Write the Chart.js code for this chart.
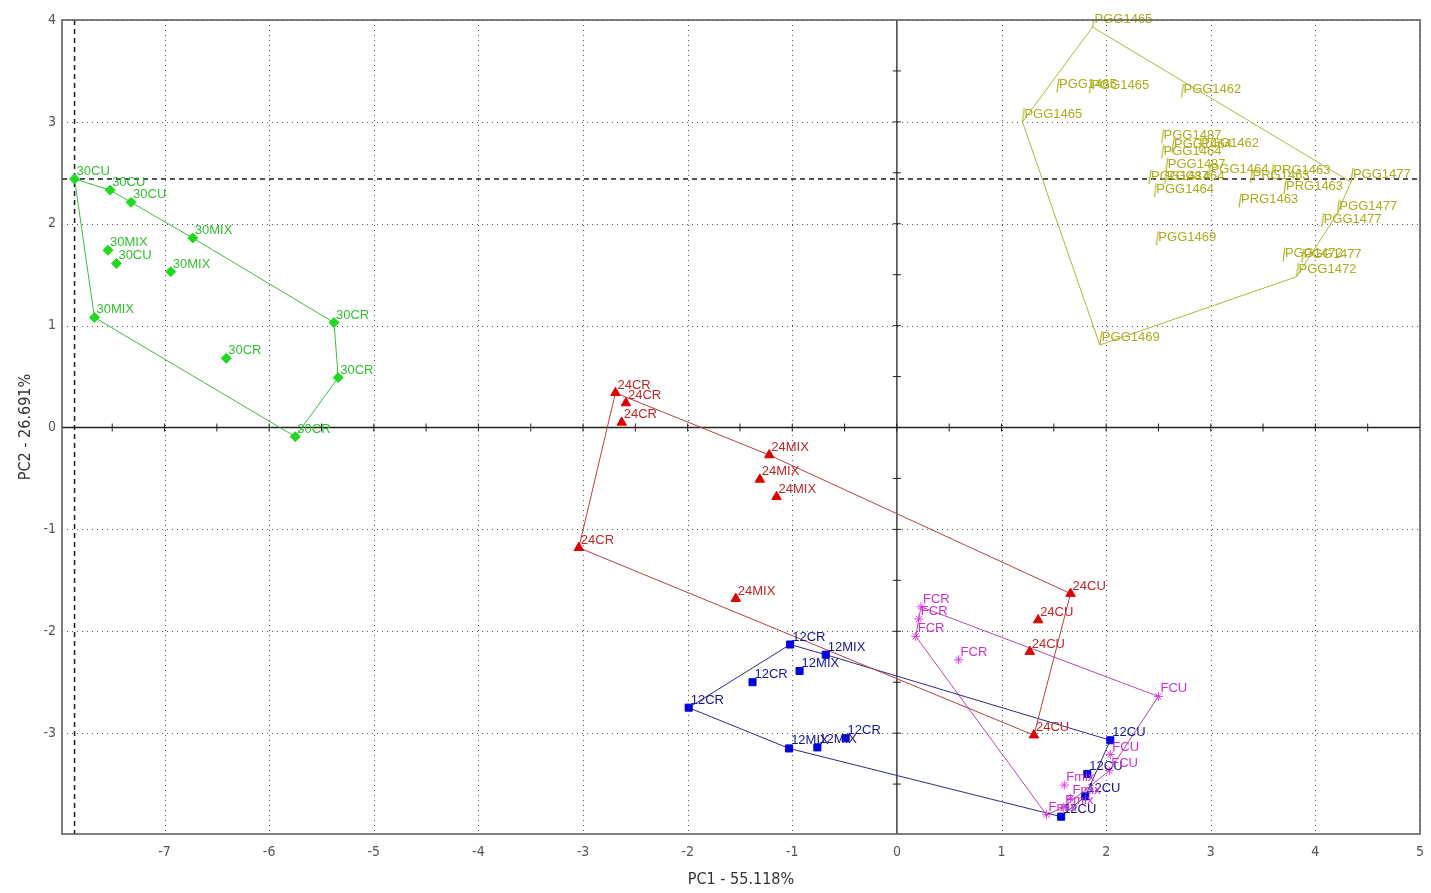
<!DOCTYPE html>
<html>
<head>
<meta charset="utf-8">
<script src="https://cdn.jsdelivr.net/npm/chart.js@4.4.1/dist/chart.umd.min.js"></script>
<style>
  html, body { margin: 0; padding: 0; background: #ffffff; }
  canvas { display: block; }
</style>
</head>
<body>
<canvas id="pca" width="1431" height="893"></canvas>
<script>
// ---- PCA score data (PC1, PC2) per sample series ----
const names30 = ['30CU','30CU','30CU','30MIX','30MIX','30CU','30MIX','30MIX','30CR','30CR','30CR','30CR'];
const pc1_30  = [-7.86,-7.52,-7.32,-6.73,-7.54,-7.46,-6.94,-7.67,-5.38,-6.41,-5.34,-5.75];
const pc2_30  = [ 2.44, 2.33, 2.21, 1.86, 1.74, 1.61, 1.53, 1.08, 1.03, 0.68, 0.49,-0.09];

const names24 = ['24CR','24CR','24CR','24MIX','24MIX','24MIX','24CR','24MIX','24CU','24CU','24CU','24CU'];
const pc1_24  = [-2.69,-2.59,-2.63,-1.22,-1.31,-1.15,-3.04,-1.54, 1.66, 1.35, 1.27, 1.31];
const pc2_24  = [ 0.34, 0.24, 0.05,-0.27,-0.51,-0.68,-1.18,-1.68,-1.63,-1.89,-2.20,-3.02];

const names12 = ['12CR','12MIX','12MIX','12CR','12CR','12MIX','12MIX','12CR','12CU','12CU','12CU','12CU'];
const pc1_12  = [-1.02,-0.68,-0.93,-1.38,-1.99,-1.03,-0.76,-0.49, 2.04, 1.82, 1.80, 1.57];
const pc2_12  = [-2.13,-2.23,-2.39,-2.50,-2.75,-3.15,-3.14,-3.05,-3.07,-3.40,-3.62,-3.82];

const namesF  = ['FCR','FCR','FCR','FCR','FCU','FCU','FCU','Fmix','Fmix','Fmix','Fmix'];
const pc1_F   = [ 0.23, 0.21, 0.18, 0.59, 2.50, 2.04, 2.03, 1.60, 1.66, 1.59, 1.43];
const pc2_F   = [-1.76,-1.88,-2.05,-2.28,-2.64,-3.21,-3.37,-3.51,-3.64,-3.73,-3.80];

const namesPGG = ['PGG1465','PGG1465','PGG1465','PGG1462','PGG1465','PGG1487','PGG1462','PGG1464','PGG1464',
                  'PGG1487','PGG1464','PRG1463','PGG1487','PGG1464','PRG1463','PRG1463','PGG1464','PRG1463',
                  'PGG1477','PGG1477','PGG1477','PGG1469','PGG1472','PGG1477','PGG1472','PGG1469'];
const pc1_PGG = [1.87,1.53,1.84,2.72,1.20,2.53,2.89,2.63,2.53,
                 2.57,2.98,3.58,2.41,2.56,3.38,3.70,2.46,3.27,
                 4.34,4.21,4.06,2.48,3.69,3.87,3.82,1.94];
const pc2_PGG = [3.93,3.29,3.28,3.24,3.00,2.79,2.71,2.70,2.64,
                 2.51,2.46,2.45,2.39,2.39,2.40,2.29,2.26,2.16,
                 2.41,2.10,1.97,1.79,1.63,1.62,1.48,0.81];

// ---- axes ----
const pc1Range = [-7.98, 5];
const pc2Range = [-3.99, 4];
const pc1Ticks = [-7,-6,-5,-4,-3,-2,-1,0,1,2,3,4,5];
const pc2Ticks = [-3,-2,-1,0,1,2,3,4];
const pc1Title = 'PC1 - 55.118%';
const pc2Title = 'PC2 - 26.691%';
const crosshair = [-7.86, 2.44];   // highlighted sample (dashed guide lines)

const narrowFont = "'Liberation Sans Narrow','DejaVu Sans Condensed','Liberation Sans',Arial,sans-serif";
const labelFont = "13px 'Liberation Sans', Arial, sans-serif";

function toPoints(xs, ys) { return xs.map((v, i) => ({ x: v, y: ys[i] })); }

// Convex hull (monotone chain), closed for drawing
function hull(points) {
  const p = points.slice().sort((a, b) => a.x - b.x || a.y - b.y);
  const cross = (o, a, b) => (a.x - o.x) * (b.y - o.y) - (a.y - o.y) * (b.x - o.x);
  const lower = [], upper = [];
  for (const q of p) {
    while (lower.length >= 2 && cross(lower[lower.length - 2], lower[lower.length - 1], q) <= 0) lower.pop();
    lower.push(q);
  }
  for (let i = p.length - 1; i >= 0; i--) {
    const q = p[i];
    while (upper.length >= 2 && cross(upper[upper.length - 2], upper[upper.length - 1], q) <= 0) upper.pop();
    upper.push(q);
  }
  upper.pop(); lower.pop();
  const h = lower.concat(upper);
  h.push(h[0]);
  return h;
}

// short upright stroke used as the PGG marker (anchored at its lower end)
function strokeMarker(color) {
  const c = document.createElement('canvas');
  c.width = 8; c.height = 32;
  const g = c.getContext('2d');
  g.strokeStyle = color; g.lineWidth = 1.2;
  g.beginPath(); g.moveTo(4, 16); g.lineTo(6, 2); g.stroke();
  return c;
}

const series = [
  { xs: pc1_30,  ys: pc2_30,  names: names30,  style: 'rectRot',  r: 5,   mark: '#1fd81f', text: '#2fbf2f', line: '#3cbc3c' },
  { xs: pc1_24,  ys: pc2_24,  names: names24,  style: 'triangle', r: 5.5, mark: '#dd0000', text: '#c42424', line: '#b84040' },
  { xs: pc1_12,  ys: pc2_12,  names: names12,  style: 'rect',     r: 5,   mark: '#0000dd', text: '#141496', line: '#2c2c8c' },
  { xs: pc1_F,   ys: pc2_F,   names: namesF,   style: 'star',     r: 4.5, mark: '#e040e0', text: '#cc30cc', line: '#b448b4' },
  { xs: pc1_PGG, ys: pc2_PGG, names: namesPGG, style: strokeMarker('#b4b422'), r: 4, mark: '#b4b422', text: '#acac1c', line: '#b4b43a' }
];

const datasets = [];
series.forEach(s => {
  const pts = toPoints(s.xs, s.ys);
  datasets.push({
    data: pts, order: 0,
    pointStyle: s.style, pointRadius: s.r,
    pointBackgroundColor: s.mark, pointBorderColor: s.mark, pointBorderWidth: 1,
    showLine: false,
    pointNames: s.names, labelColor: s.text
  });
  datasets.push({
    data: hull(pts), order: 1,
    showLine: true, fill: false, tension: 0,
    borderColor: s.line, borderWidth: 1, pointRadius: 0
  });
});

function strokeLine(ctx, x1, y1, x2, y2) {
  ctx.beginPath(); ctx.moveTo(x1, y1); ctx.lineTo(x2, y2); ctx.stroke();
}

// background grid, zero axes with half-unit ticks, guide lines, frame
const framePlugin = {
  id: 'pcaFrame',
  beforeDatasetsDraw(chart) {
    const { ctx, chartArea: { left, right, top, bottom }, scales: { x, y } } = chart;
    ctx.save();
    ctx.strokeStyle = 'rgba(40,40,40,0.8)';
    ctx.lineWidth = 1;
    ctx.setLineDash([1, 4]);
    pc1Ticks.filter(v => v !== 0).forEach(v => {
      const px = Math.round(x.getPixelForValue(v)) + 0.5;
      strokeLine(ctx, px, top, px, bottom);
    });
    pc2Ticks.filter(v => v !== 0).forEach(v => {
      const py = Math.round(y.getPixelForValue(v)) + 0.5;
      strokeLine(ctx, left, py, right, py);
    });

    // zero axes
    ctx.setLineDash([]);
    ctx.strokeStyle = '#222';
    ctx.lineWidth = 1.3;
    const x0 = x.getPixelForValue(0), y0 = y.getPixelForValue(0);
    strokeLine(ctx, left, y0, right, y0);
    strokeLine(ctx, x0, top, x0, bottom);
    ctx.lineWidth = 1;
    for (let k = Math.ceil(pc1Range[0] * 2); k <= Math.floor(pc1Range[1] * 2) - 1; k++) {
      const px = x.getPixelForValue(k / 2);
      strokeLine(ctx, px, y0 - 4, px, y0 + 4);
    }
    for (let k = Math.ceil(pc2Range[0] * 2); k <= Math.floor(pc2Range[1] * 2) - 1; k++) {
      const py = y.getPixelForValue(k / 2);
      strokeLine(ctx, x0 - 4, py, x0 + 4, py);
    }

    // dashed guides through the highlighted sample
    ctx.strokeStyle = '#1a1a1a';
    ctx.lineWidth = 1.5;
    ctx.setLineDash([5, 4]);
    const gx = x.getPixelForValue(crosshair[0]), gy = y.getPixelForValue(crosshair[1]);
    strokeLine(ctx, gx, top, gx, bottom);
    strokeLine(ctx, left, gy, right, gy);
    ctx.restore();
  },
  afterDraw(chart) {
    const { ctx, chartArea: { left, right, top, bottom } } = chart;
    ctx.save();
    ctx.strokeStyle = '#555';
    ctx.lineWidth = 1.5;
    ctx.strokeRect(left, top, right - left, bottom - top);
    ctx.restore();
  }
};

// sample names next to each score
const namePlugin = {
  id: 'sampleNames',
  afterDatasetsDraw(chart) {
    const ctx = chart.ctx;
    chart.data.datasets.forEach((ds, i) => {
      if (!ds.pointNames) return;
      const meta = chart.getDatasetMeta(i);
      ctx.save();
      ctx.font = labelFont;
      ctx.fillStyle = ds.labelColor;
      ctx.textBaseline = 'alphabetic';
      meta.data.forEach((el, j) => ctx.fillText(ds.pointNames[j], el.x + 2, el.y - 4));
      ctx.restore();
    });
  }
};

new Chart(document.getElementById('pca'), {
  type: 'scatter',
  data: { datasets },
  plugins: [framePlugin, namePlugin],
  options: {
    responsive: false,
    animation: false,
    events: [],
    layout: { padding: { left: 0, right: 11, top: 20, bottom: 0 } },
    plugins: { legend: { display: false }, tooltip: { enabled: false } },
    scales: {
      x: {
        type: 'linear', min: pc1Range[0], max: pc1Range[1],
        afterBuildTicks: s => { s.ticks = pc1Ticks.map(v => ({ value: v })); },
        afterFit: s => { s.height = 59; s.paddingLeft = 0; s.paddingRight = 0; },
        grid: { display: false, drawTicks: false },
        border: { display: false },
        ticks: { color: '#555', font: { family: narrowFont, size: 14 }, padding: 10, maxRotation: 0, autoSkip: false },
        title: { display: true, text: pc1Title, color: '#333', font: { family: narrowFont, size: 16 }, padding: { top: 0, bottom: 4 } }
      },
      y: {
        type: 'linear', min: pc2Range[0], max: pc2Range[1],
        afterBuildTicks: s => { s.ticks = pc2Ticks.map(v => ({ value: v })); },
        afterFit: s => { s.width = 62; s.paddingTop = 0; s.paddingBottom = 0; },
        grid: { display: false, drawTicks: false },
        border: { display: false },
        ticks: { color: '#555', font: { family: narrowFont, size: 14 }, padding: 6, autoSkip: false },
        title: { display: true, text: pc2Title, color: '#333', font: { family: narrowFont, size: 16 }, padding: { top: 16, bottom: 0 } }
      }
    }
  }
});
</script>
</body>
</html>
